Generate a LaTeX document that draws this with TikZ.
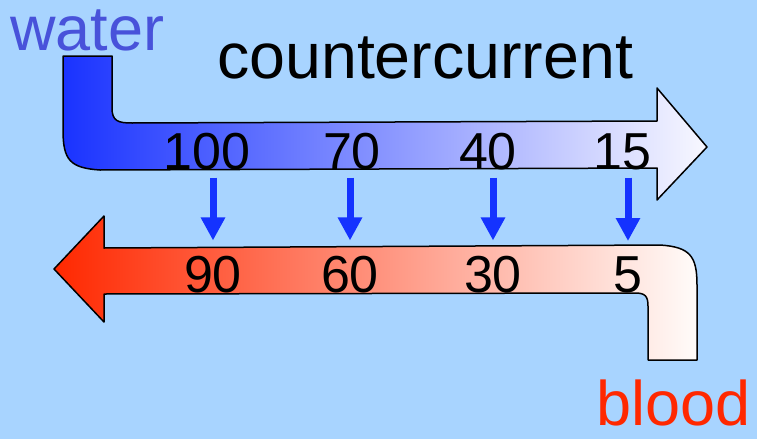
\documentclass[tikz,border=0pt]{standalone}
\usepackage{fontspec}
\setmainfont{Liberation Sans}
\usetikzlibrary{arrows.meta}
\definecolor{skyback}{RGB}{168,212,255}
\definecolor{waterblue}{RGB}{26,51,255}
\definecolor{waterpale}{RGB}{248,248,255}
\definecolor{bloodred}{RGB}{255,40,0}
\definecolor{bloodpale}{RGB}{255,252,250}
\definecolor{labelblue}{RGB}{72,82,218}
\definecolor{flowblue}{RGB}{20,50,255}

\begin{document}
\begin{tikzpicture}[x=1pt,y=-1pt,
	every node/.style={inner sep=0pt, anchor=base},
	num/.style={font=\fontsize{52}{52}\selectfont},
	word/.style={font=\fontsize{63}{63}\selectfont, anchor=base west},
	pipe/.style={draw=black, line width=1.5pt, line join=round},
	flow/.style={flowblue, line width=7pt, -{Triangle[length=23pt,width=23pt]},
		shorten <=8pt, shorten >=15pt}]
	\fill[skyback] (0,0) rectangle (757,439);
	\useasboundingbox (0,0) rectangle (757,439);
	% water pipe, top
	\shade[pipe, left color=waterblue, right color=waterpale]
		(63,56) -- (112,56) -- (112,108) .. controls (112,121) and (118,123) .. (132,123)
		-- (657,121) -- (657,88) -- (707,147) -- (657,200) -- (657,168)
		-- (100,170) .. controls (70,168) and (63,160) .. (63,130) -- cycle;
	% blood pipe, bottom
	\shade[pipe, left color=bloodred, right color=bloodpale]
		(54,269) -- (104,216) -- (104,248) -- (660,245)
		.. controls (690,247) and (697,256) .. (697,285) -- (697,360) -- (648,360)
		-- (648,306) .. controls (648,296) and (645,293) .. (635,293)
		-- (104,294) -- (104,322) -- cycle;
	\node[word, labelblue] (water) at (10,50) {water};
	\node[word, font=\fontsize{64.5}{64.5}\selectfont] (title) at (217,78) {countercurrent};
	\node[word, bloodred] (blood) at (596,425) {blood};
	\node[num] (t100) at (207,169) {100};
	\node[num] (t70) at (352,169) {70};
	\node[num] (t40) at (488,169) {40};
	\node[num] (t15) at (622,169) {15};
	\node[num] (b90) at (213,292) {90};
	\node[num] (b60) at (350,292) {60};
	\node[num] (b30) at (493,292) {30};
	\node[num] (b5) at (628,292) {5};
	\draw[flow] (b90.north |- t100.south) -- (b90.north);
	\draw[flow] (b60.north |- t70.south) -- (b60.north);
	\draw[flow] (b30.north |- t40.south) -- (b30.north);
	\draw[flow] (b5.north |- t15.south) -- (b5.north);
\end{tikzpicture}
\end{document}
